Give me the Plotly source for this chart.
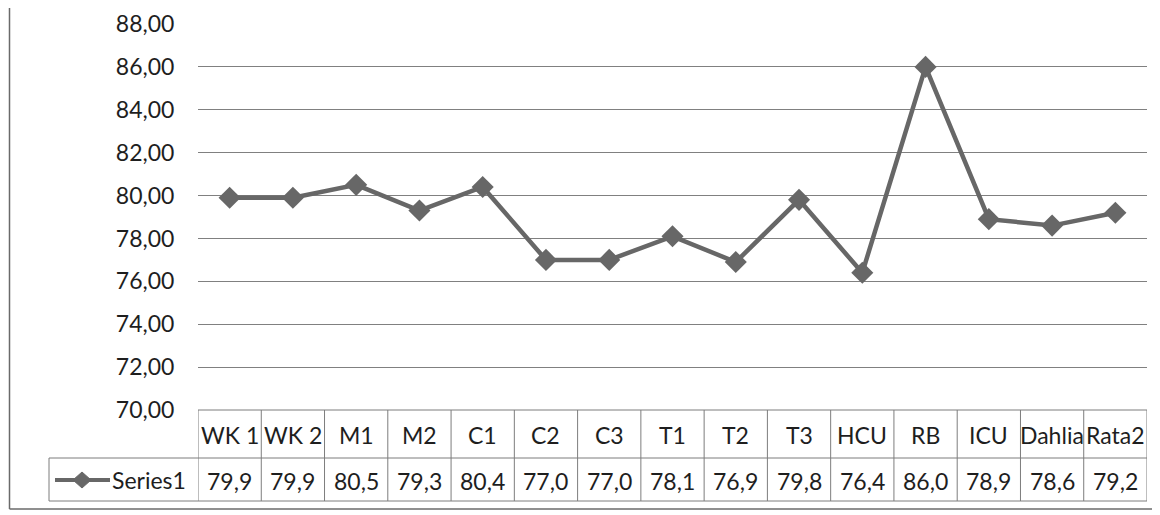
import plotly.graph_objects as go

categories = ["WK 1", "WK 2", "M1", "M2", "C1", "C2", "C3", "T1", "T2", "T3",
              "HCU", "RB", "ICU", "Dahlia", "Rata2"]
series_name = "Series1"
values = [79.9, 79.9, 80.5, 79.3, 80.4, 77.0, 77.0, 78.1, 76.9, 79.8,
          76.4, 86.0, 78.9, 78.6, 79.2]
y_ticks = [70, 72, 74, 76, 78, 80, 82, 84, 86, 88]

OFF = 8  # page body margin
W, H = 1160 - OFF, 515 - OFF
# plot area in screen pixels: x 198..1147, y 24..410
L = 198 - OFF
T = 24 - OFF
R = W - (1147 - OFF)
B = H - (410 - OFF)
PW, PH = W - L - R, H - T - B

def px(x):  # screen x -> paper
    return (x - OFF - L) / PW

def py(y):  # screen y -> paper
    return (H - B - (y - OFF)) / PH

FONT = "Lato"
TXT = "#1e1e1e"
GRID = "#808080"
TAB = "#7d7d7d"
LINEC = "#676767"

fig = go.Figure()
fig.add_trace(go.Scatter(
    x=categories, y=values, mode="lines+markers", name=series_name,
    line=dict(color=LINEC, width=4.5),
    marker=dict(symbol="diamond", size=17, color=LINEC),
    showlegend=False,
))

shapes = []
n = len(categories)
row1_bot = py(458)
row2_bot = py(501)
for i in range(n + 1):
    shapes.append(dict(type="line", xref="x", yref="paper", x0=i - 0.5, x1=i - 0.5,
                       y0=0, y1=row2_bot, line=dict(color=TAB, width=1)))
shapes.append(dict(type="line", xref="paper", yref="paper", x0=0, x1=1, y0=0, y1=0,
                   line=dict(color=TAB, width=1)))
for yy in (row1_bot, row2_bot):
    shapes.append(dict(type="line", xref="paper", yref="paper", x0=px(49), x1=1,
                       y0=yy, y1=yy, line=dict(color=TAB, width=1)))
shapes.append(dict(type="line", xref="paper", yref="paper", x0=px(49), x1=px(49),
                   y0=row1_bot, y1=row2_bot, line=dict(color=TAB, width=1)))
# legend key
ky = py(480)
shapes.append(dict(type="line", xref="paper", yref="paper", x0=px(55), x1=px(110),
                   y0=ky, y1=ky, line=dict(color=LINEC, width=4)))
cx, cy = 82, 480
path = "M {} {} L {} {} L {} {} L {} {} Z".format(
    px(cx - 9), py(cy), px(cx), py(cy - 8), px(cx + 9), py(cy), px(cx), py(cy + 8))
shapes.append(dict(type="path", xref="paper", yref="paper", path=path,
                   fillcolor=LINEC, line=dict(color=LINEC, width=1)))
# outer chart border (left and bottom)
shapes.append(dict(type="line", xref="paper", yref="paper", x0=px(9.5), x1=px(9.5),
                   y0=py(509), y1=py(8), line=dict(color="#6a6a6a", width=1.5)))
shapes.append(dict(type="line", xref="paper", yref="paper", x0=px(9.5), x1=px(1160),
                   y0=py(509), y1=py(509), line=dict(color="#6a6a6a", width=1.5)))

annotations = []
for c, v in zip(categories, values):
    annotations.append(dict(x=c, xref="x", y=py(435), yref="paper", text=c,
                            showarrow=False, xanchor="center", yanchor="middle",
                            font=dict(family=FONT, size=23, color=TXT)))
    annotations.append(dict(x=c, xref="x", y=py(481), yref="paper",
                            text=f"{v:.1f}".replace(".", ","),
                            showarrow=False, xanchor="center", yanchor="middle",
                            font=dict(family=FONT, size=23, color=TXT)))
annotations.append(dict(x=px(110), xref="paper", y=py(480), yref="paper", text=series_name,
                        showarrow=False, xanchor="left", yanchor="middle",
                        font=dict(family=FONT, size=23, color=TXT)))

fig.update_layout(
    width=W, height=H,
    margin=dict(l=L, r=R, t=T, b=B, autoexpand=False),
    paper_bgcolor="white", plot_bgcolor="white",
    separators=",.",
    font=dict(family=FONT, size=23, color=TXT),
    shapes=shapes, annotations=annotations,
    xaxis=dict(type="category", range=[-0.5, n - 0.5], showticklabels=False,
               showgrid=False, zeroline=False, showline=False, ticks=""),
    yaxis=dict(range=[70, 88], tickvals=y_ticks, tickformat=".2f",
               showgrid=True, gridcolor=GRID, gridwidth=1, zeroline=False,
               showline=False, ticks="outside", ticklen=18,
               tickcolor="rgba(0,0,0,0)",
               tickfont=dict(family=FONT, size=23, color=TXT)),
)

fig.write_html("out.html")
